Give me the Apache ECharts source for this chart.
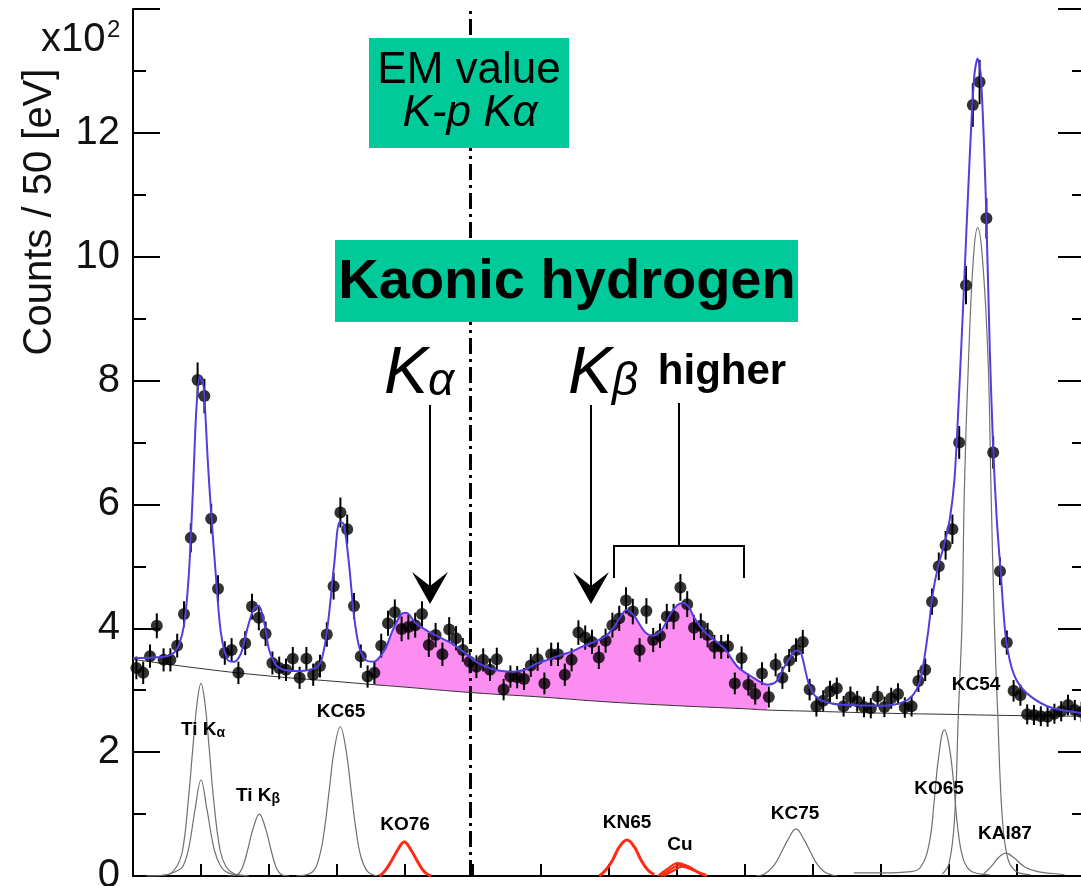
<!DOCTYPE html>
<html><head><meta charset="utf-8">
<script src="https://cdn.jsdelivr.net/npm/echarts@6/dist/echarts.min.js"></script>
<style>html,body{margin:0;padding:0;background:#fff;overflow:hidden}#c{width:1081px;height:886px}</style>
</head><body><div id="c"></div>
<script>
// ---------- data (counts in units of 10^2 per 50 eV bin) ----------
const energies = [4025,4075,4125,4175,4225,4275,4325,4375,4425,4475,
4525,4575,4625,4675,4725,4775,4825,4875,4925,4975,
5025,5075,5125,5175,5225,5275,5325,5375,5425,5475,
5525,5575,5625,5675,5725,5775,5825,5875,5925,5975,
6025,6075,6125,6175,6225,6275,6325,6375,6425,6475,
6525,6575,6625,6675,6725,6775,6825,6875,6925,6975,
7025,7075,7125,7175,7225,7275,7325,7375,7425,7475,
7525,7575,7625,7675,7725,7775,7825,7875,7925,7975,
8025,8075,8125,8175,8225,8275,8325,8375,8425,8475,
8525,8575,8625,8675,8725,8775,8825,8875,8925,8975,
9025,9075,9125,9175,9225,9275,9325,9375,9425,9475,
9525,9575,9625,9675,9725,9775,9825,9875,9925,9975,
10025,10075,10125,10175,10225,10275,10325,10375,10425,10475,
10525,10575,10625,10675,10725,10775,10825,10875,10925,10975];
const counts = [3.36,3.28,3.55,4.04,3.49,3.49,3.72,4.23,5.46,8.01,
7.75,5.77,4.64,3.60,3.65,3.28,3.76,4.35,4.17,3.91,
3.44,3.36,3.33,3.51,3.20,3.51,3.25,3.39,3.90,4.68,
5.87,5.60,4.36,3.55,3.22,3.28,3.72,4.08,4.26,3.99,
4.02,4.05,4.23,3.73,3.89,3.58,3.98,3.84,3.65,3.46,
3.38,3.49,3.33,3.50,3.01,3.22,3.21,3.18,3.40,3.50,
3.11,3.58,3.58,3.25,3.49,3.93,3.85,3.78,3.53,3.80,
4.05,4.16,4.45,4.27,3.65,4.28,3.81,3.88,4.19,4.19,
4.66,4.39,4.01,4.04,3.89,3.70,3.70,3.71,3.11,3.52,
3.09,2.94,3.27,2.89,3.41,3.20,3.48,3.65,3.78,3.01,
2.74,2.83,2.98,3.03,2.74,2.89,2.82,2.73,2.71,2.90,
2.73,2.87,2.94,2.72,2.74,3.15,3.33,4.43,5.00,5.34,
5.60,7.00,9.54,12.45,12.82,10.62,6.84,4.92,3.77,2.99,
2.92,2.61,2.60,2.58,2.57,2.62,2.66,2.76,2.68,2.65];

// total fit
const fitE = [4000,4150,4250,4300,4340,4375,4410,4440,4465,4490,4505,4520,4550,4575,4610,4645,4695,4745,4795,4845,4890,4925,4965,5000,5050,5110,5200,5300,5370,5410,5440,5480,5520,5550,5590,5625,5665,5710,5770,5850,5910,5970,6010,6080,6170,6240,6340,6440,6530,6630,6710,6800,6880,6960,7050,7150,7220,7300,7370,7440,7480,7540,7595,7630,7685,7760,7820,7880,7955,8005,8050,8090,8130,8200,8275,8350,8445,8570,8665,8730,8790,8860,8890,8915,8975,9035,9130,9250,9500,9600,9700,9770,9810,9850,9880,9920,9965,10005,10040,10070,10110,10150,10185,10210,10235,10270,10300,10325,10350,10380,10415,10450,10500,10600,10750,10980];
const fitV = [3.52,3.53,3.55,3.60,3.75,4.05,4.85,6.2,7.5,8.07,8.0,7.9,6.7,5.85,4.83,3.95,3.49,3.46,3.60,4.03,4.32,4.36,4.09,3.66,3.41,3.33,3.31,3.33,3.41,3.72,4.2,5.05,5.72,5.68,5.0,4.2,3.68,3.49,3.46,3.65,3.97,4.22,4.25,4.08,3.95,3.87,3.76,3.60,3.45,3.35,3.31,3.30,3.33,3.42,3.49,3.57,3.62,3.70,3.76,3.83,3.88,4.03,4.22,4.30,4.2,3.95,3.88,3.95,4.24,4.38,4.41,4.33,4.16,3.95,3.81,3.67,3.38,3.19,3.09,3.14,3.38,3.62,3.64,3.58,3.06,2.87,2.79,2.76,2.75,2.77,2.85,3.05,3.4,4.0,4.55,5.0,5.35,5.75,6.4,7.6,9.5,11.5,12.9,13.2,12.9,11.0,8.5,6.9,5.8,4.9,3.9,3.45,3.15,2.9,2.72,2.63];

// continuum background
const bgE = [4000,4500,5000,5500,5770,6000,6500,7000,7500,8000,8500,8665,9000,9500,10000,10500,11000];
const bgV = [3.50,3.35,3.23,3.14,3.09,3.05,2.96,2.89,2.81,2.75,2.70,2.68,2.66,2.63,2.61,2.59,2.58];

// kaonic-hydrogen signal range (pink)
const signalFrom = 5770, signalTo = 8665;
const emValue = 6480;

// fitted components
const tiKa1E = [4100,4250,4320,4365,4407,4439,4471,4500,4529,4561,4593,4640,4684,4740,4800,4850];
const tiKa1V = [0,0.02,0.15,0.42,1.23,2.04,2.79,3.11,2.79,2.04,1.23,0.42,0.15,0.04,0.01,0];
const tiKa2E = [4100,4250,4320,4365,4407,4456,4500,4544,4598,4647,4700,4800,4850];
const tiKa2V = [0,0.02,0.08,0.15,0.42,1.07,1.55,1.07,0.42,0.15,0.05,0.01,0];
const tiKbE = [4700,4770,4807,4843,4880,4929,4978,5015,5051,5088,5150];
const tiKbV = [0,0.03,0.15,0.42,0.74,1.0,0.74,0.42,0.15,0.03,0];
const kc65E = [5200,5321,5370,5407,5443,5480,5524,5566,5603,5640,5676,5726,5799];
const kc65V = [0,0.07,0.31,0.74,1.39,2.04,2.41,2.04,1.39,0.74,0.31,0.07,0];
const ko76E = [5811,5848,5897,5946,5995,6044,6093,6142,6191];
const ko76V = [0,0.07,0.23,0.42,0.55,0.42,0.23,0.07,0];
const kn65E = [7429,7478,7527,7576,7632,7686,7735,7784,7833];
const kn65V = [0,0.10,0.26,0.47,0.58,0.47,0.26,0.10,0.02];
const cuAE = [7858,7932,8005,8078,8152,8213];
const cuAV = [0,0.12,0.21,0.16,0.07,0.02];
const cuBE = [7880,7950,8020,8090,8160,8215];
const cuBV = [0,0.10,0.18,0.14,0.05,0.01];
const cuCE = [7900,7970,8040,8110,8180,8220];
const cuCV = [0,0.08,0.15,0.10,0.03,0];
const kc75E = [8580,8630,8667,8716,8765,8814,8875,8936,8985,9034,9083,9132,9180];
const kc75V = [0,0.02,0.07,0.18,0.37,0.58,0.76,0.58,0.37,0.18,0.07,0.02,0];
const ko65E = [9300,9500,9721,9794,9855,9892,9921,9965,10002,10034,10063,10100,10149,10211,10300];
const ko65V = [0.05,0.05,0.07,0.15,0.53,1.23,1.87,2.36,2.09,1.5,0.8,0.31,0.1,0.04,0.02];
const kc54E = [9950,10000,10040,10069,10096,10113,10144,10180,10211,10245,10287,10309,10333,10358,10390,10430,10490,10600];
const kc54V = [0.03,0.2,0.9,2.63,4.12,6.24,8.36,10.0,10.47,10.0,8.36,6.24,4.12,2.63,1.0,0.3,0.08,0.02];
const kal87E = [10250,10309,10370,10419,10480,10554,10652,10762,10850];
const kal87V = [0.02,0.15,0.31,0.37,0.29,0.15,0.07,0.04,0.02];

const yTicks = [0,2,4,6,8,10,12];

// ---------- chart ----------
const FONT = '"Liberation Sans", Arial, Helvetica, sans-serif';
const chart = echarts.init(document.getElementById('c'));
const pair = (E, V) => E.map((e, i) => [e, V[i]]);
const dataPts = pair(energies, counts);

function comp(E, V, color, width) {
  return {type: 'line', data: pair(E, V), smooth: 0.4, symbol: 'none', silent: true,
    lineStyle: {color: color, width: width}, z: 2, animation: false};
}

const series = [
  { // pink kaonic hydrogen signal area
    type: 'custom', z: 1, silent: true, animation: false,
    data: [[signalFrom, 3]],
    renderItem: function (params, api) {
      const pts = [];
      for (let i = 0; i < fitE.length; i++) if (fitE[i] >= signalFrom && fitE[i] <= signalTo) pts.push(api.coord([fitE[i], fitV[i]]));
      for (let i = bgE.length - 1; i >= 0; i--) if (bgE[i] >= signalFrom && bgE[i] <= signalTo) pts.push(api.coord([bgE[i], bgV[i]]));
      return {type: 'polygon', shape: {points: pts}, style: {fill: '#fc8df1'}};
    }
  },
  { // background
    type: 'line', data: pair(bgE, bgV), smooth: true, symbol: 'none', silent: true, z: 2, animation: false,
    lineStyle: {color: '#333', width: 1},
    markLine: {silent: true, symbol: 'none', z: 2, animation: false, label: {show: false},
      lineStyle: {color: '#000', width: 3, type: [16, 5, 3, 5]},
      data: [{xAxis: emValue}]}
  },
  comp(tiKa1E, tiKa1V, '#707070', 1.2),
  comp(tiKa2E, tiKa2V, '#707070', 1.2),
  comp(tiKbE, tiKbV, '#707070', 1.2),
  comp(kc65E, kc65V, '#707070', 1.2),
  comp(kc75E, kc75V, '#707070', 1.2),
  comp(ko65E, ko65V, '#707070', 1.2),
  comp(kc54E, kc54V, '#707070', 1.2),
  comp(kal87E, kal87V, '#707070', 1.2),
  comp(ko76E, ko76V, '#ff2a14', 3),
  comp(kn65E, kn65V, '#ff2a14', 3),
  comp(cuAE, cuAV, '#ff2a14', 2.2),
  comp(cuBE, cuBV, '#ff2a14', 2.2),
  comp(cuCE, cuCV, '#ff2a14', 2.2),
  { // error bars
    type: 'custom', z: 3, silent: true, animation: false, data: dataPts,
    renderItem: function (params, api) {
      const x = api.value(0), y = api.value(1);
      const e = Math.sqrt(y * 100) / 100;
      const a = api.coord([x, y - e]), b = api.coord([x, y + e]);
      return {type: 'line', shape: {x1: a[0], y1: a[1], x2: b[0], y2: b[1]}, style: {stroke: '#000', lineWidth: 2}};
    }
  },
  { // data points
    type: 'scatter', data: dataPts, symbol: 'circle', symbolSize: 12, z: 3, silent: true, animation: false,
    itemStyle: {color: '#000'}
  },
  { // total fit
    type: 'line', data: pair(fitE, fitV), smooth: 0.3, symbol: 'none', z: 4, silent: true, animation: false,
    lineStyle: {color: '#4f3fe0', width: 2}
  }
];

function txt(x, y, rich, body, align) {
  return {type: 'text', z: 100, style: {x: x, y: y, text: body, rich: rich, textAlign: align || 'center', textVerticalAlign: 'middle', fill: '#000'}};
}
const small = {a: {fontSize: 19, fontWeight: 'bold', fontFamily: FONT, fill: '#000'}, s: {fontSize: 14, fontWeight: 'bold', fontFamily: FONT, fill: '#000', padding: [6, 0, 0, 0]}};

const graphic = [
  // y-axis title and multiplier
  {type: 'text', z: 100, x: 40, y: 212, rotation: Math.PI / 2,
    style: {text: 'Counts / 50 [eV]', font: '40px ' + FONT, fill: '#111', textAlign: 'center', textVerticalAlign: 'middle'}},
  {type: 'text', z: 100, style: {x: 41, y: 40, text: 'x10', font: '40px ' + FONT, fill: '#111', textAlign: 'left', textVerticalAlign: 'middle'}},
  {type: 'text', z: 100, style: {x: 107, y: 30, text: '2', font: '24px ' + FONT, fill: '#111', textAlign: 'left', textVerticalAlign: 'middle'}},
  // EM value box
  {type: 'rect', z: 100, shape: {x: 369, y: 38, width: 200, height: 110}, style: {fill: '#00c99a'}},
  {type: 'text', z: 101, style: {x: 469, y: 71, text: 'EM value', font: '44px ' + FONT, fill: '#000', textAlign: 'center', textVerticalAlign: 'middle'}},
  {type: 'text', z: 101, style: {x: 470, y: 114, text: 'K-p Kα', font: 'italic 44px ' + FONT, fill: '#000', textAlign: 'center', textVerticalAlign: 'middle'}},
  // Kaonic hydrogen box
  {type: 'rect', z: 100, shape: {x: 335, y: 240, width: 463, height: 82}, style: {fill: '#00c99a'}},
  {type: 'text', z: 101, style: {x: 567, y: 283, text: 'Kaonic hydrogen', font: 'bold 56px ' + FONT, fill: '#000', textAlign: 'center', textVerticalAlign: 'middle'}},
  // K alpha / K beta / higher
  {type: 'text', z: 100, style: {x: 384, y: 375, text: '{k|K}{g|α}', textAlign: 'left', textVerticalAlign: 'middle',
    rich: {k: {font: 'italic 66px ' + FONT, fill: '#000'}, g: {font: 'italic 46px ' + FONT, fill: '#000', padding: [14, 0, 0, 0]}}}},
  {type: 'text', z: 100, style: {x: 568, y: 375, text: '{k|K}{g|β}', textAlign: 'left', textVerticalAlign: 'middle',
    rich: {k: {font: 'italic 66px ' + FONT, fill: '#000'}, g: {font: 'italic 46px ' + FONT, fill: '#000', padding: [14, 0, 0, 0]}}}},
  {type: 'text', z: 100, style: {x: 722, y: 372, text: 'higher', font: 'bold 42px ' + FONT, fill: '#000', textAlign: 'center', textVerticalAlign: 'middle'}},
  // arrows
  {type: 'line', z: 100, shape: {x1: 430, y1: 405, x2: 430, y2: 590}, style: {stroke: '#000', lineWidth: 2}},
  {type: 'polygon', z: 100, shape: {points: [[430, 604], [412, 572], [430, 586], [448, 572]]}, style: {fill: '#000'}},
  {type: 'line', z: 100, shape: {x1: 591, y1: 405, x2: 591, y2: 590}, style: {stroke: '#000', lineWidth: 2}},
  {type: 'polygon', z: 100, shape: {points: [[591, 604], [573, 572], [591, 586], [609, 572]]}, style: {fill: '#000'}},
  // bracket
  {type: 'polyline', z: 100, shape: {points: [[614, 578], [614, 546], [744, 546], [744, 578]]}, style: {stroke: '#000', lineWidth: 2, fill: null}},
  {type: 'line', z: 100, shape: {x1: 679, y1: 403, x2: 679, y2: 546}, style: {stroke: '#000', lineWidth: 2}},
  // component labels
  txt(203, 730, small, '{a|Ti K}{s|α}'),
  txt(258, 796, small, '{a|Ti K}{s|β}'),
  txt(341, 712, small, '{a|KC65}'),
  txt(405, 825, small, '{a|KO76}'),
  txt(627, 823, small, '{a|KN65}'),
  txt(680, 845, small, '{a|Cu}'),
  txt(795, 814, small, '{a|KC75}'),
  txt(939, 789, small, '{a|KO65}'),
  txt(976, 685, small, '{a|KC54}'),
  txt(1005, 834, small, '{a|KAl87}')
];

const axisLine = {show: true, lineStyle: {color: '#000', width: 2}};
chart.setOption({
  animation: false,
  backgroundColor: '#fff',
  grid: {left: 133, top: 9, width: 952, height: 867, containLabel: false, outerBoundsMode: 'none'},
  xAxis: [
    {type: 'value', min: 4000, max: 11000, interval: 500, position: 'bottom',
      axisLine: axisLine, axisTick: {show: true, inside: true, length: 12, lineStyle: {color: '#000', width: 2}},
      axisLabel: {show: false}, splitLine: {show: false}},
    {type: 'value', min: 4000, max: 11000, interval: 500, position: 'top',
      axisLine: axisLine, axisTick: {show: false}, axisLabel: {show: false}, splitLine: {show: false}}
  ],
  yAxis: [
    {type: 'value', min: 0, max: 14, interval: 2, position: 'left',
      axisLine: axisLine,
      axisTick: {show: true, inside: true, length: 27, lineStyle: {color: '#000', width: 2}},
      minorTick: {show: true, splitNumber: 2, length: 13, lineStyle: {color: '#000', width: 2}},
      axisLabel: {show: true, margin: 13, fontSize: 40, fontFamily: FONT, color: '#111',
        formatter: v => (yTicks.indexOf(v) >= 0 ? String(v) : '')},
      splitLine: {show: false}, minorSplitLine: {show: false}},
    {type: 'value', min: 0, max: 14, interval: 2, position: 'right',
      axisLine: axisLine,
      axisTick: {show: true, inside: true, length: 27, lineStyle: {color: '#000', width: 2}},
      minorTick: {show: true, splitNumber: 2, length: 13, lineStyle: {color: '#000', width: 2}},
      axisLabel: {show: false}, splitLine: {show: false}}
  ],
  series: series,
  graphic: graphic
});
</script>
</body></html>
